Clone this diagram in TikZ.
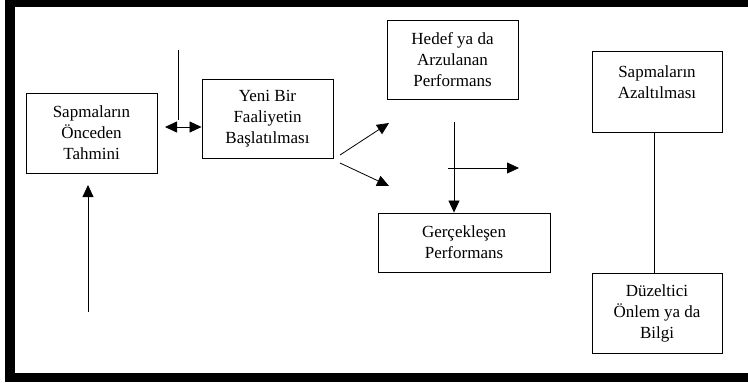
\documentclass[tikz,border=0pt]{standalone}
\usepackage{fontspec}
\setmainfont{Liberation Serif}
\usetikzlibrary{arrows.meta}
\begin{document}
\begin{tikzpicture}[x=1pt,y=-1pt,
  txt/.style={align=center, font=\fontsize{17}{21}\selectfont},
  box/.style={txt, draw, line width=0.9pt, inner sep=0pt},
  link/.style={line width=0.8pt},
  tip/.tip={Triangle[length=12pt,width=11pt]},
  arr/.style={link, -tip},
  darr/.style={link, tip-tip}]
\useasboundingbox (0,0) rectangle (748,383);
% heavy frame (top, left, bottom)
\fill (5,0) rectangle (748,7);
\fill (5,0) rectangle (15,382);
\fill (5,373) rectangle (748,382);

% boxes
\node[box, minimum width=131pt, minimum height=80pt] (A) at (91.5,133) {Sapmaların\\Önceden\\Tahmini};
\node[box, minimum width=131pt, minimum height=79pt] (B) at (267.5,118.5) {Yeni Bir\\Faaliyetin\\Başlatılması};
\node[box, minimum width=131pt, minimum height=79pt] (C) at (452.5,59.5) {Hedef ya da\\Arzulanan\\Performans};
\node[box, minimum width=172pt, minimum height=59pt] (D) at (464,242.5) {Gerçekleşen\\Performans};
\node[box, minimum width=130pt, minimum height=81pt] (E) at (657,91.5) {};
\node[txt] (Et) at (657,82) {Sapmaların\\Azaltılması};
\node[box, minimum width=130pt, minimum height=80pt] (F) at (657,313) {Düzeltici\\Önlem ya da\\Bilgi};

% free line ends
\coordinate (v1a) at (178,50);
\coordinate (v1b) at (178,120);
\coordinate (dl) at (165,127);
\coordinate (dr) at (B.west |- dl);
\coordinate (g1) at (340,155);
\coordinate (g1t) at (389,123);
\coordinate (g2) at (340,163);
\coordinate (g2t) at (389,186);
\coordinate (p1) at (454,122);
\coordinate (h1) at (448,168);
\coordinate (h2) at (519,168);
\coordinate (u1) at (88,312);
\coordinate (u2) at (88,185);
\coordinate (e1) at (654,0 |- E.south);

% connectors
\draw[link] (v1a) -- (v1b);
\draw[darr] (dl) -- (dr);
\draw[arr] (g1) -- (g1t);
\draw[arr] (g2) -- (g2t);
\draw[arr] (p1) -- (p1 |- D.north);
\draw[arr] (h1) -- (h2);
\draw[arr] (u1) -- (u2);
\draw[link] (e1) -- (e1 |- F.north);
\end{tikzpicture}
\end{document}
